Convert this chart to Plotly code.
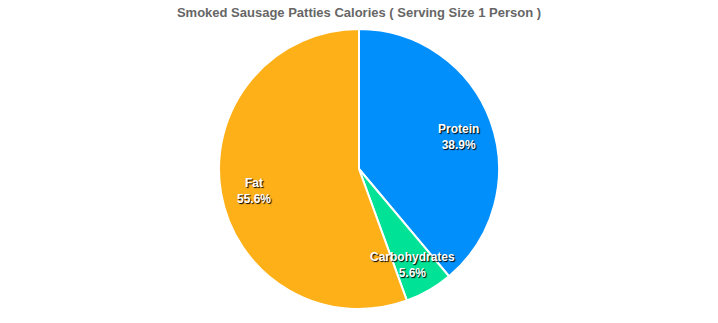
import math
import plotly.graph_objects as go

labels = ["Protein", "Carbohydrates", "Fat"]
values = [7, 1, 10]
colors = ["#008FFB", "#00E396", "#FEB019"]
title_text = "Smoked Sausage Patties Calories ( Serving Size 1 Person )"

W, H = 718, 323
ML, MR, MT, MB = 0, 0, 29, 14

fig = go.Figure(go.Pie(
    labels=labels, values=values, sort=False, direction="clockwise", rotation=0,
    marker=dict(colors=colors, line=dict(color="#ffffff", width=2)),
    textinfo="none", hoverinfo="label+percent", showlegend=False,
    domain=dict(x=[0, 1], y=[0, 1]),
))

# label positions along each slice's mid-angle at 0.76 of the radius
total = sum(values)
plot_w, plot_h = W - ML - MR, H - MT - MB
R = min(plot_w, plot_h) / 2
cx, cy = plot_w / 2, plot_h / 2
cum = 0
annotations = []
for lab, v in zip(labels, values):
    mid = (cum + v / 2) / total
    cum += v
    ang = math.pi / 2 - 2 * math.pi * mid
    px = cx + 0.76 * R * math.cos(ang)
    py = cy + 0.76 * R * math.sin(ang)
    annotations.append(dict(
        x=px / plot_w, y=py / plot_h, xref="paper", yref="paper",
        xanchor="center", yanchor="middle", yshift=-4,
        text=f"{lab}<br>{100 * v / total:.1f}%", showarrow=False,
        font=dict(family="Liberation Sans, Arial, sans-serif", size=12, color="#ffffff",
                  weight="bold", shadow="1px 1px 1px #000000"),
        align="center",
    ))

fig.update_layout(
    width=W, height=H,
    margin=dict(l=ML, r=MR, t=MT, b=MB),
    paper_bgcolor="#ffffff", plot_bgcolor="#ffffff",
    title=dict(text=f"<b>{title_text}</b>", x=0.5, xanchor="center", y=1 - 12 / H, yanchor="middle",
               font=dict(family="Liberation Sans, Arial, sans-serif", size=13, color="#666666")),
    annotations=annotations,
)

fig.write_html("out.html")
